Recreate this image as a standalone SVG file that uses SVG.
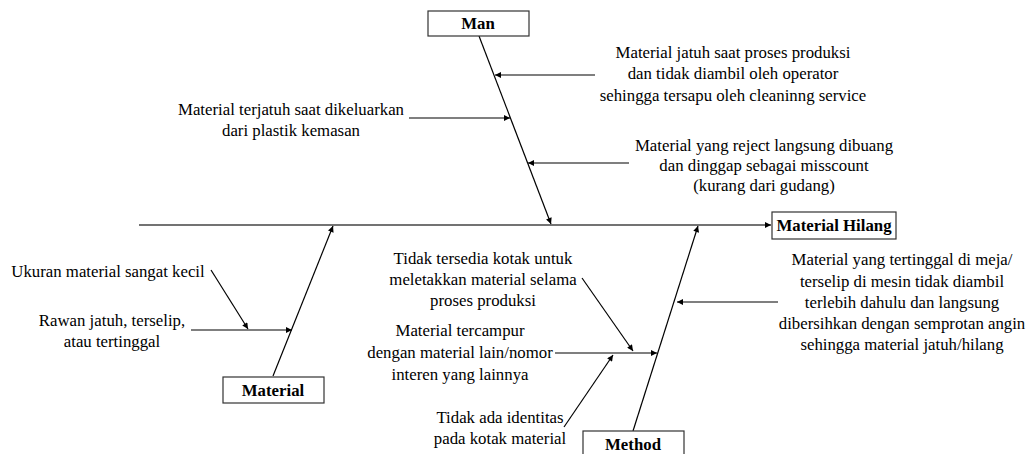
<svg xmlns="http://www.w3.org/2000/svg" width="1033" height="454" viewBox="0 0 1033 454">
<defs>
<marker id="ah" viewBox="0 0 10 10" refX="10" refY="5" markerWidth="7" markerHeight="6" markerUnits="userSpaceOnUse" orient="auto">
<path d="M0,0 L10,5 L0,10 z" fill="#000"/>
</marker>
<style>
.t{font-family:"Liberation Serif","Times New Roman",serif;font-size:16.8px;fill:#000;text-anchor:middle}
.b{font-family:"Liberation Serif","Times New Roman",serif;font-size:16.8px;font-weight:bold;fill:#000;text-anchor:middle}
.box{fill:#fff;stroke:#333;stroke-width:1.2}
.c{stroke:#000;stroke-width:1.2;fill:none;marker-end:url(#ah)}
.spine{stroke:#444;stroke-width:1.6;fill:none;marker-end:url(#ah)}
</style>
</defs>
<rect width="1033" height="454" fill="#fff"/>
<g id="connectors">
<line class="spine" x1="139" y1="225" x2="771" y2="225"/>
<line class="c" x1="479" y1="36" x2="551" y2="224"/>
<line class="c" x1="273" y1="376" x2="333" y2="226"/>
<line class="c" x1="633" y1="431" x2="698" y2="226"/>
<line class="c" x1="595" y1="75" x2="495" y2="75"/>
<line class="c" x1="409" y1="118" x2="510" y2="118"/>
<line class="c" x1="629" y1="163" x2="528" y2="163"/>
<line class="c" x1="191" y1="330" x2="292" y2="330"/>
<line class="c" x1="211" y1="270" x2="248" y2="329"/>
<line class="c" x1="778" y1="302" x2="677" y2="302"/>
<line class="c" x1="555" y1="353" x2="657" y2="353"/>
<line class="c" x1="582" y1="278" x2="633" y2="351"/>
<line class="c" x1="564" y1="427" x2="613" y2="355"/>
</g>
<g id="node-man">
<rect class="box" x="428" y="11" width="101" height="25"/>
<text class="b" x="478" y="29">Man</text>
</g>
<g id="node-material">
<rect class="box" x="223" y="377" width="101" height="26"/>
<text class="b" x="273" y="396">Material</text>
</g>
<g id="node-method">
<rect class="box" x="583" y="431" width="101" height="30"/>
<text class="b" x="633" y="450">Method</text>
</g>
<g id="node-effect">
<rect class="box" x="772" y="212" width="124" height="27"/>
<text class="b" x="834" y="231">Material Hilang</text>
</g>
<g id="cause-man-1">
<text class="t" x="733" y="58">Material jatuh saat proses produksi</text>
<text class="t" x="733" y="79">dan tidak diambil oleh operator</text>
<text class="t" x="733" y="101">sehingga tersapu oleh cleaninng service</text>
</g>
<g id="cause-man-2">
<text class="t" x="291" y="115">Material terjatuh saat dikeluarkan</text>
<text class="t" x="291" y="136">dari plastik kemasan</text>
</g>
<g id="cause-man-3">
<text class="t" x="764" y="151">Material yang reject langsung dibuang</text>
<text class="t" x="764" y="171">dan dinggap sebagai misscount</text>
<text class="t" x="764" y="191">(kurang dari gudang)</text>
</g>
<g id="cause-material-1">
<text class="t" x="108" y="277">Ukuran material sangat kecil</text>
</g>
<g id="cause-material-2">
<text class="t" x="112" y="326">Rawan jatuh, terselip,</text>
<text class="t" x="112" y="347">atau tertinggal</text>
</g>
<g id="cause-method-1">
<text class="t" x="483" y="264">Tidak tersedia kotak untuk</text>
<text class="t" x="483" y="285">meletakkan material selama</text>
<text class="t" x="483" y="306">proses produksi</text>
</g>
<g id="cause-method-2">
<text class="t" x="460" y="336">Material tercampur</text>
<text class="t" x="460" y="358">dengan material lain/nomor</text>
<text class="t" x="460" y="380">interen yang lainnya</text>
</g>
<g id="cause-method-3">
<text class="t" x="500" y="423">Tidak ada identitas</text>
<text class="t" x="500" y="444">pada kotak material</text>
</g>
<g id="cause-method-4">
<text class="t" x="902" y="265">Material yang tertinggal di meja/</text>
<text class="t" x="902" y="287">terselip di mesin tidak diambil</text>
<text class="t" x="902" y="308">terlebih dahulu dan langsung</text>
<text class="t" x="902" y="329">dibersihkan dengan semprotan angin</text>
<text class="t" x="902" y="350">sehingga material jatuh/hilang</text>
</g>
</svg>
